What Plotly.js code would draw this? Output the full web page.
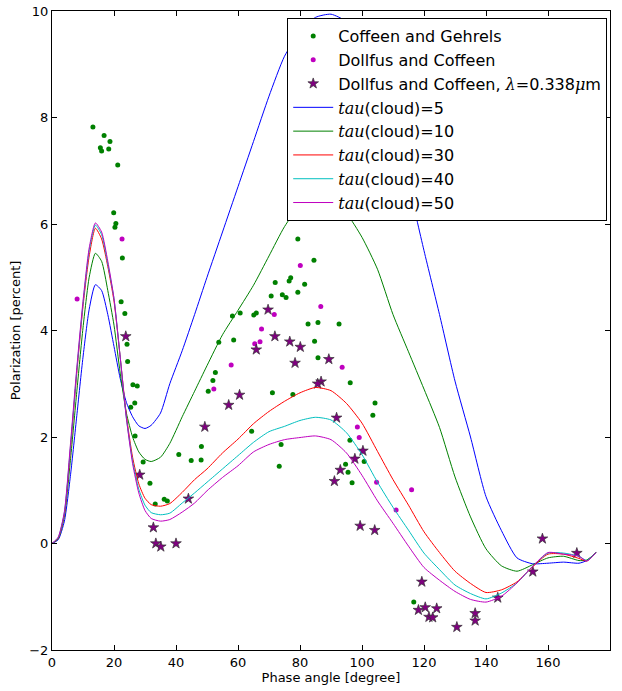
<!DOCTYPE html>
<html>
<head>
<meta charset="utf-8">
<script src="https://cdn.plot.ly/plotly-3.0.1.min.js"></script>
<style>
html,body{margin:0;padding:0;background:#fff;}
#chart{width:622px;height:691px;}
</style>
</head>
<body>
<div id="chart"></div>
<script>
// Observations: Coffeen and Gehrels
const cgX = [13.2,16.8,18.7,15.6,18.3,16.0,21.2,19.9,20.6,20.3,22.7,22.3,23.5,24.2,24.4,26.1,27.5,26.7,25.4,26.8,29.4,31.6,33.3,36.2,37.2,40.9,48.2,44.9,48.1,50.4,51.9,52.7,53.8,58.6,58.2,60.7,65.1,65.9,64.4,71.1,70.7,72.0,74.3,75.5,76.5,77.0,79.3,79.3,81.5,82.6,73.9,73.3,77.7,84.5,85.8,92.6,84.7,85.8,96.2,104.2,103.5,96.1,100.7,94.7,95.5,96.8,116.7];
const cgY = [7.82,7.66,7.55,7.43,7.41,7.37,7.11,6.21,6.01,5.94,5.36,4.54,4.32,3.74,3.42,2.98,2.96,2.64,2.56,2.02,1.53,1.13,0.74,0.83,0.80,1.67,1.82,1.56,1.57,2.86,3.06,3.21,3.78,3.82,4.27,4.33,4.29,4.33,2.11,2.83,4.65,4.90,4.67,4.62,4.93,4.99,5.72,4.72,4.87,4.12,1.86,1.45,2.80,5.32,4.15,4.12,3.80,3.49,3.02,2.64,2.41,1.94,1.54,1.49,1.34,1.14,-1.10];

// Observations: Dollfus and Coffeen
const dcX = [8.1,22.6,80.1,71.7,67.6,65.4,67.1,57.8,52.2,86.7,93.6,98.5,99.1,104.7,116.0,111.0];
const dcY = [4.59,5.72,5.22,4.30,4.03,3.75,3.79,3.35,2.90,4.45,3.31,2.19,1.99,1.15,1.01,0.63];

// Observations: Dollfus and Coffeen, lambda = 0.338 micron
const uvX = [23.8,28.3,32.7,33.5,35.1,40.0,44.0,49.3,57.0,60.5,65.9,69.7,71.9,76.7,80.1,78.4,89.3,86.8,85.7,91.8,100.3,97.7,93.0,91.1,99.4,104.1,119.3,118.2,120.4,121.6,122.8,124.1,130.6,136.5,136.5,143.8,155.1,158.2,169.3];
const uvY = [3.89,1.29,0.30,0.00,-0.06,0.00,0.84,2.19,2.60,2.79,3.64,4.39,3.89,3.79,3.69,3.39,3.46,3.04,3.00,2.36,1.74,1.59,1.38,1.17,0.33,0.25,-0.72,-1.25,-1.20,-1.38,-1.39,-1.22,-1.57,-1.31,-1.45,-1.02,-0.53,0.09,-0.18];

// Model curves (common phase-angle grid)
const phase = [0,2,4,6,8,10,12,14,16,18,20,22,24,26,28,30,32,35,38,42,46,50,55,60,65,70,75,80,85,90,95,100,105,110,115,120,125,130,135,140,145,150,155,160,165,170,172.5,175.5];
const tau5  = [0,0.07,0.42,1.3,2.4,3.5,4.4,4.86,4.75,4.3,3.7,3.1,2.65,2.38,2.21,2.16,2.22,2.45,3.0,3.62,4.3,5.0,5.85,6.7,7.55,8.4,9.15,9.6,9.88,9.94,9.8,9.43,8.8,7.9,6.75,5.5,4.3,3.05,2.0,0.88,0.24,-0.27,-0.38,-0.37,-0.35,-0.37,-0.32,-0.17];
const tau10 = [0,0.09,0.52,1.6,2.85,4.05,5.0,5.45,5.3,4.75,4.1,3.2,2.45,2.0,1.72,1.58,1.54,1.62,1.88,2.38,2.86,3.34,3.92,4.38,4.85,5.4,5.95,6.35,6.5,6.45,6.2,5.75,5.15,4.3,3.6,2.9,2.18,1.25,0.5,-0.1,-0.42,-0.52,-0.4,-0.27,-0.24,-0.32,-0.31,-0.17];
const tau30 = [0,0.1,0.55,1.8,3.2,4.45,5.4,5.92,5.72,5.2,4.55,3.5,2.4,1.62,1.12,0.85,0.73,0.7,0.75,0.96,1.2,1.4,1.7,1.96,2.25,2.48,2.67,2.83,2.93,2.87,2.63,2.26,1.73,1.2,0.72,0.22,-0.17,-0.52,-0.75,-0.92,-0.87,-0.72,-0.44,-0.2,-0.2,-0.28,-0.33,-0.17];
const tau40 = [0,0.11,0.58,1.85,3.25,4.5,5.5,5.98,5.8,5.25,4.6,3.5,2.35,1.55,1.02,0.72,0.58,0.54,0.57,0.76,0.95,1.15,1.4,1.65,1.9,2.1,2.2,2.31,2.37,2.32,2.08,1.67,1.15,0.68,0.25,-0.18,-0.49,-0.78,-0.94,-1.04,-0.93,-0.74,-0.43,-0.18,-0.18,-0.24,-0.32,-0.17];
const tau50 = [0,0.12,0.6,1.9,3.3,4.55,5.55,6.02,5.85,5.3,4.6,3.5,2.35,1.5,0.95,0.62,0.47,0.42,0.45,0.59,0.76,0.99,1.24,1.46,1.72,1.86,1.95,1.99,2.02,1.95,1.7,1.28,0.8,0.38,-0.05,-0.45,-0.69,-0.9,-1.05,-1.1,-0.99,-0.74,-0.43,-0.17,-0.2,-0.24,-0.33,-0.17];

const tauSpan = t => '<span style="font-family:\'DejaVu Serif\'"><i>tau</i></span>(cloud)=' + t;

const traces = [
  {x: cgX, y: cgY, mode: 'markers', type: 'scatter', name: 'Coffeen and Gehrels',
   marker: {color: '#008000', size: 5}},
  {x: dcX, y: dcY, mode: 'markers', type: 'scatter', name: 'Dollfus and Coffeen',
   marker: {color: '#bf00bf', size: 5}},
  {x: uvX, y: uvY, mode: 'markers', type: 'scatter',
   name: 'Dollfus and Coffeen, <span style="font-family:\'DejaVu Serif\'"><i>λ</i></span>=0.338<span style="font-family:\'DejaVu Serif\'"><i>μ</i></span>m',
   marker: {color: '#800080', size: 8, symbol: 'star', line: {color: '#333333', width: 0.7}}},
  {x: phase, y: tau5,  mode: 'lines', type: 'scatter', name: tauSpan(5),  line: {color: '#0000ff', width: 1, shape: 'spline', smoothing: 0.6}},
  {x: phase, y: tau10, mode: 'lines', type: 'scatter', name: tauSpan(10), line: {color: '#008000', width: 1, shape: 'spline', smoothing: 0.6}},
  {x: phase, y: tau30, mode: 'lines', type: 'scatter', name: tauSpan(30), line: {color: '#ff0000', width: 1, shape: 'spline', smoothing: 0.6}},
  {x: phase, y: tau40, mode: 'lines', type: 'scatter', name: tauSpan(40), line: {color: '#00bfbf', width: 1, shape: 'spline', smoothing: 0.6}},
  {x: phase, y: tau50, mode: 'lines', type: 'scatter', name: tauSpan(50), line: {color: '#bf00bf', width: 1, shape: 'spline', smoothing: 0.6}}
];

const axisCommon = {
  showgrid: false, zeroline: false, showline: true, linecolor: '#000', linewidth: 1,
  mirror: 'allticks', ticks: 'inside', ticklen: 5, tickwidth: 1, tickcolor: '#000',
  tickfont: {family: 'DejaVu Sans', size: 13, color: '#000'}
};

const layout = {
  width: 622, height: 691,
  margin: {l: 52, r: 12, t: 11, b: 41},
  paper_bgcolor: '#fff', plot_bgcolor: '#fff',
  font: {family: 'DejaVu Sans', color: '#000'},
  showlegend: true,
  legend: {x: 0.995, y: 0.989, xanchor: 'right', yanchor: 'top',
           bgcolor: '#fff', bordercolor: '#000', borderwidth: 1,
           itemwidth: 40,
           font: {family: 'DejaVu Sans', size: 16, color: '#000'}},
  xaxis: Object.assign({}, axisCommon, {range: [0, 180], dtick: 20, tick0: 0,
    title: {text: 'Phase angle [degree]', font: {family: 'DejaVu Sans', size: 13, color: '#000'}, standoff: 4}}),
  yaxis: Object.assign({}, axisCommon, {range: [-2, 10], dtick: 2, tick0: 0,
    title: {text: 'Polarization [percent]', font: {family: 'DejaVu Sans', size: 13, color: '#000'}, standoff: 5}})
};

Plotly.newPlot('chart', traces, layout, {displayModeBar: false, responsive: false});
</script>
</body>
</html>
